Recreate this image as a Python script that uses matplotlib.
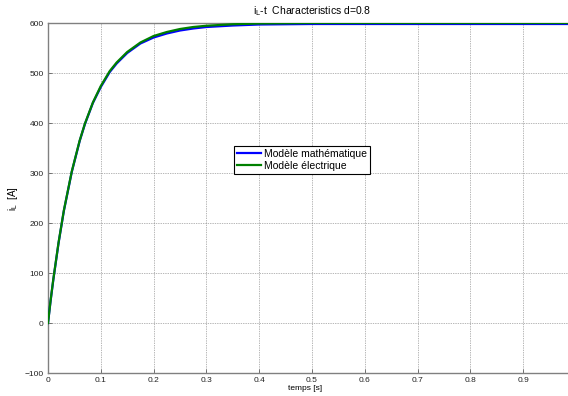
import matplotlib
matplotlib.use("Agg")
import matplotlib.pyplot as plt

plt.rcParams['font.family'] = ['Liberation Sans', 'DejaVu Sans']

# Time samples [s] and currents [A]
t = [0, 0.005, 0.01, 0.02, 0.03, 0.045, 0.06, 0.07, 0.085, 0.1, 0.117, 0.13, 0.15,
     0.175, 0.2, 0.225, 0.25, 0.275, 0.3, 0.35, 0.4, 0.5, 0.6, 0.8, 1.0]
i_math = [0, 45, 86, 160, 224, 302, 364, 398, 440, 472, 502, 519, 540,
          559, 571, 579, 585, 589, 592, 595, 597, 598, 598, 598, 598]
i_elec = [0, 46, 87, 161, 225, 303, 365, 399, 441, 474, 504, 521, 542,
          561, 574, 582, 588, 592, 594.5, 597.5, 599, 600, 600, 600, 600]

yticks = [-100, 0, 100, 200, 300, 400, 500, 600]
xticks = [0, 0.1, 0.2, 0.3, 0.4, 0.5, 0.6, 0.7, 0.8, 0.9]
xtick_labels = ['0', '0.1', '0.2', '0.3', '0.4', '0.5', '0.6', '0.7', '0.8', '0.9']

fig = plt.figure(figsize=(5.68, 3.96), dpi=100)
ax = fig.add_axes([48/568, 23/396, 528/568, 350/396])

ax.plot(t, i_math, color='#0000ff', lw=1.6, label='Modèle mathématique', zorder=3)
ax.plot(t, i_elec, color='#008000', lw=1.6, label='Modèle électrique', zorder=4)

ax.set_xlim(0, 1)
ax.set_ylim(-100, 600)
ax.set_xticks(xticks)
ax.set_xticklabels(xtick_labels)
ax.set_yticks(yticks)

ax.grid(True, color='#707070', linestyle=(0, (1, 1.5)), linewidth=0.5)
for s in ax.spines.values():
    s.set_color('#808080')
    s.set_linewidth(1.0)
ax.tick_params(direction='in', length=3, width=0.6, color='#606060',
               labelsize=6, labelcolor='#222222', pad=3)

ax.set_title(r'i$_\mathregular{L}$-t  Characteristics d=0.8', fontsize=7.5, pad=6)
ax.set_ylabel(r'i$_\mathregular{L}$  [A]', fontsize=7)
ax.yaxis.set_label_coords(-0.053, 0.5)
ax.set_xlabel('temps [s]', fontsize=6)
ax.xaxis.set_label_coords(0.487, -0.035)

leg = ax.legend(loc='upper left', bbox_to_anchor=(0.352, 0.65), fontsize=7.5,
                frameon=True, fancybox=False, framealpha=1, edgecolor='black',
                handlelength=2.3, borderpad=0.3, labelspacing=0.2, handletextpad=0.3,
                borderaxespad=0)
leg.get_frame().set_linewidth(0.8)

fig.savefig('out.png', dpi=100, facecolor='white')
